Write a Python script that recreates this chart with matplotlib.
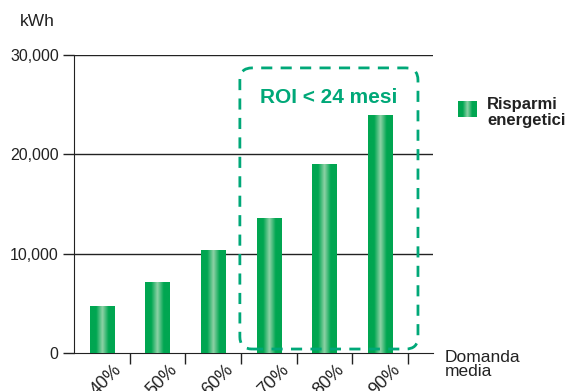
import numpy as np
import matplotlib
matplotlib.use("Agg")
import matplotlib.pyplot as plt
import matplotlib.transforms as mtrans
from matplotlib.patches import FancyBboxPatch
from matplotlib.colors import LinearSegmentedColormap

plt.rcParams['font.family'] = ['Liberation Sans', 'DejaVu Sans']

# dati
categorie = ['40%', '50%', '60%', '70%', '80%', '90%']
risparmi = [4700, 7150, 10400, 13600, 19000, 24000]
y_ticks = [0, 10000, 20000, 30000]
y_labels = ['0', '10,000', '20,000', '30,000']

verde = '#00a651'
verde_chiaro = '#8ed2a6'
teal = '#00a878'
grigio = '#222222'

fig = plt.figure(figsize=(5.76, 3.91), dpi=100)
ax = fig.add_axes([74/576, 1-353/391, (433-74)/576, (353-55)/391])

x = np.arange(len(categorie))
larghezza = 0.44
bars = ax.bar(x, risparmi, width=larghezza, color='none', edgecolor='none', zorder=3)

# riempimento a gradiente delle barre
cmap = LinearSegmentedColormap.from_list('g', [verde, verde, verde_chiaro, verde, verde])
grad = np.linspace(0, 1, 256).reshape(1, -1)
for b in bars:
    x0, y0 = b.get_x(), b.get_y()
    w, h = b.get_width(), b.get_height()
    im = ax.imshow(grad, cmap=cmap, extent=[x0, x0 + w, y0, y0 + h],
                   aspect='auto', zorder=3, interpolation='bilinear')
    im.set_clip_path(b)

ax.set_xlim(-0.5, 5.95)
ax.set_ylim(0, 30000)
ax.set_yticks(y_ticks)
ax.set_yticklabels(y_labels, fontsize=11.5, color=grigio)
for yv in y_ticks[1:]:
    ax.axhline(yv, color=grigio, lw=1, zorder=1)

ax.set_xticks(x)
ax.set_xticklabels(categorie, rotation=45, ha='right', va='top',
                   rotation_mode='anchor', fontsize=13, color=grigio)
ax.tick_params(axis='x', length=0, pad=6)
off = mtrans.ScaledTranslation(8/72, 0, fig.dpi_scale_trans)
for lab in ax.get_xticklabels():
    lab.set_transform(lab.get_transform() + off)

ax.set_xticks(x + 0.5, minor=True)
ax.tick_params(axis='x', which='minor', length=8, width=1, color=grigio, direction='out')
ax.tick_params(axis='y', length=8, width=1, color=grigio, direction='out', pad=3)

for s in ['top', 'right']:
    ax.spines[s].set_visible(False)
ax.spines['left'].set_color(grigio)
ax.spines['bottom'].set_color(grigio)

# riquadro tratteggiato ROI
box = FancyBboxPatch((2.48, 400), 5.68 - 2.48, 28700 - 400,
                     boxstyle='round,pad=0,rounding_size=0.22',
                     mutation_aspect=5600, fill=False, edgecolor=teal,
                     lw=2, linestyle=(0, (4, 3)), zorder=4, clip_on=False)
ax.add_patch(box)
ax.text(4.08, 25700, 'ROI < 24 mesi', color=teal, fontsize=15, fontweight='bold',
        ha='center', va='center', zorder=5)

# testi
fig.text(20/576, 1-22/391, 'kWh', fontsize=12.5, color=grigio, ha='left', va='center')
fig.text(445/576, 1-350/391, 'Domanda\nmedia', fontsize=12.5, color=grigio,
         ha='left', va='top', linespacing=0.95)

# legenda
lax = fig.add_axes([458/576, 1-117/391, 19/576, 16/391])
lax.imshow(grad, cmap=cmap, aspect='auto', interpolation='bilinear')
lax.axis('off')
fig.text(487/576, 1-97/391, 'Risparmi\nenergetici', fontsize=12, fontweight='bold',
         color=grigio, ha='left', va='top', linespacing=1.05)

fig.savefig('out.png', dpi=100)
